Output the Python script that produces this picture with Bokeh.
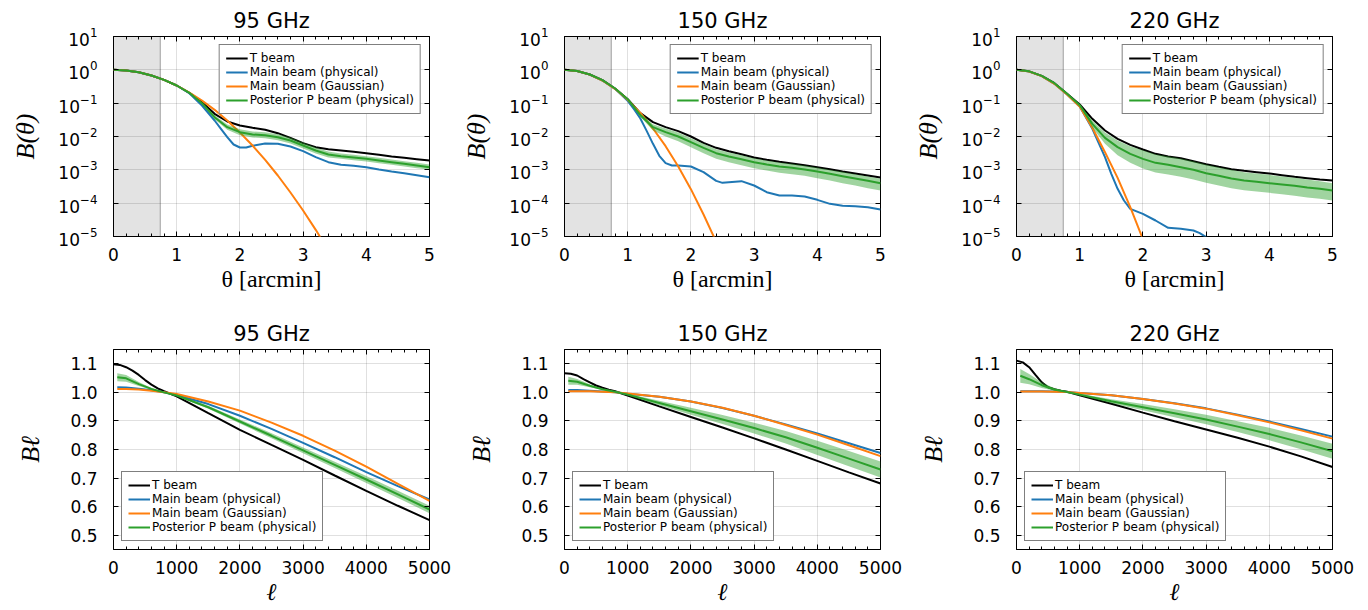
import numpy as np
from bokeh.plotting import figure
from bokeh.layouts import column, row
from bokeh.models import (Legend, LegendItem, LinearAxis, LogAxis, BoxAnnotation,
                          FixedTicker, Range1d, PrintfTickFormatter)
from bokeh.embed import file_html
from bokeh.resources import INLINE

TITLES = ["95 GHz", "150 GHz", "220 GHz"]
LABELS = ["T beam", "Main beam (physical)", "Main beam (Gaussian)", "Posterior P beam (physical)"]
COLORS = ["#000000", "#1f77b4", "#ff7f0e", "#2ca02c"]
THETA_CUT = 0.74

# ---------------- top row: log10 B(theta) ----------------
TH = [0.0, 0.2, 0.4, 0.6, 0.8, 1.0, 1.2, 1.4, 1.6, 1.8, 2.0, 2.2, 2.4, 2.6, 2.8,
      3.0, 3.2, 3.4, 3.6, 3.8, 4.0, 4.2, 4.4, 4.6, 4.8, 5.0]

# 95 GHz
T95 = [0, -0.019, -0.075, -0.17, -0.30, -0.47, -0.69, -0.97, -1.32, -1.55, -1.67, -1.74, -1.80,
       -1.90, -2.04, -2.20, -2.32, -2.38, -2.42, -2.46, -2.50, -2.55, -2.60, -2.64, -2.68, -2.72]
M95_TH = [0.0, 0.2, 0.4, 0.6, 0.8, 1.0, 1.2, 1.4, 1.6, 1.7, 1.8, 1.9, 2.0, 2.1, 2.2, 2.4, 2.6,
          2.8, 3.0, 3.2, 3.4, 3.6, 3.8, 4.0, 4.2, 4.4, 4.6, 4.8, 5.0]
M95 = [0, -0.019, -0.075, -0.17, -0.30, -0.47, -0.70, -1.07, -1.52, -1.77, -2.02, -2.24, -2.33,
       -2.33, -2.28, -2.21, -2.22, -2.30, -2.44, -2.62, -2.77, -2.85, -2.88, -2.92, -2.99, -3.05,
       -3.10, -3.16, -3.22]
G95 = [0, -0.019, -0.075, -0.17, -0.30, -0.47, -0.68, -0.92, -1.20, -1.52, -1.88, -2.27, -2.70,
       -3.17, -3.68, -4.22, -4.80, -5.42, -6.08]
P95 = [0, -0.019, -0.075, -0.17, -0.30, -0.47, -0.69, -1.00, -1.42, -1.72, -1.87, -1.94, -1.96,
       -2.02, -2.12, -2.27, -2.42, -2.54, -2.59, -2.63, -2.67, -2.72, -2.77, -2.82, -2.87, -2.92]
P95_HI = [0, -0.019, -0.075, -0.17, -0.30, -0.47, -0.68, -0.97, -1.36, -1.64, -1.78, -1.85, -1.87,
          -1.93, -2.03, -2.18, -2.33, -2.45, -2.51, -2.55, -2.59, -2.64, -2.69, -2.74, -2.79, -2.84]
P95_LO = [0, -0.019, -0.075, -0.17, -0.30, -0.47, -0.70, -1.03, -1.48, -1.80, -1.96, -2.03, -2.05,
          -2.11, -2.21, -2.36, -2.51, -2.63, -2.67, -2.71, -2.75, -2.80, -2.85, -2.90, -2.95, -3.00]

# 150 GHz
T150 = [0, -0.035, -0.14, -0.31, -0.56, -0.88, -1.30, -1.57, -1.72, -1.84, -2.00, -2.19, -2.34,
        -2.44, -2.53, -2.63, -2.70, -2.76, -2.81, -2.86, -2.92, -2.98, -3.05, -3.11, -3.17, -3.23]
M150_TH = [0.0, 0.2, 0.4, 0.6, 0.8, 1.0, 1.1, 1.2, 1.3, 1.4, 1.5, 1.6, 1.7, 1.8, 2.0, 2.2, 2.4,
           2.5, 2.6, 2.8, 3.0, 3.2, 3.4, 3.6, 3.8, 4.0, 4.2, 4.4, 4.6, 4.8, 5.0]
M150 = [0, -0.036, -0.143, -0.32, -0.57, -0.93, -1.18, -1.46, -1.83, -2.22, -2.58, -2.80, -2.87,
        -2.87, -2.90, -3.07, -3.33, -3.39, -3.37, -3.34, -3.47, -3.67, -3.77, -3.77, -3.80, -3.90,
        -4.02, -4.08, -4.09, -4.12, -4.19]
G150 = [0, -0.036, -0.143, -0.32, -0.57, -0.90, -1.29, -1.76, -2.29, -2.90, -3.58, -4.34, -5.16,
        -6.06]
P150 = [0, -0.035, -0.14, -0.31, -0.56, -0.88, -1.36, -1.72, -1.87, -2.00, -2.17, -2.34, -2.50,
        -2.60, -2.68, -2.77, -2.84, -2.90, -2.94, -2.99, -3.05, -3.12, -3.19, -3.26, -3.33, -3.40]
P150_HI = [0, -0.035, -0.14, -0.31, -0.56, -0.87, -1.31, -1.63, -1.76, -1.88, -2.05, -2.22, -2.38,
           -2.48, -2.56, -2.65, -2.72, -2.78, -2.82, -2.87, -2.93, -3.00, -3.06, -3.13, -3.20, -3.27]
P150_LO = [0, -0.035, -0.14, -0.31, -0.56, -0.89, -1.41, -1.82, -2.00, -2.14, -2.32, -2.50, -2.67,
           -2.77, -2.86, -2.95, -3.02, -3.09, -3.13, -3.18, -3.25, -3.32, -3.40, -3.47, -3.55, -3.62]

# 220 GHz
T220 = [0, -0.045, -0.18, -0.40, -0.72, -1.04, -1.47, -1.82, -2.07, -2.25, -2.39, -2.52, -2.60,
        -2.65, -2.74, -2.83, -2.91, -2.98, -3.03, -3.07, -3.11, -3.16, -3.21, -3.25, -3.29, -3.32]
M220_TH = [0.0, 0.2, 0.4, 0.6, 0.8, 1.0, 1.2, 1.4, 1.5, 1.6, 1.7, 1.8, 2.0, 2.2, 2.4, 2.6, 2.8,
           2.9, 3.0, 3.1]
M220 = [0, -0.05, -0.19, -0.42, -0.74, -1.10, -1.77, -2.62, -3.12, -3.57, -3.92, -4.17, -4.32,
        -4.52, -4.74, -4.77, -4.82, -4.90, -5.02, -5.15]
G220 = [0, -0.05, -0.19, -0.42, -0.74, -1.10, -1.74, -2.47, -3.24, -4.12, -5.08, -6.10]
P220 = [0, -0.045, -0.18, -0.40, -0.72, -1.06, -1.62, -2.04, -2.32, -2.52, -2.67, -2.79, -2.85,
        -2.92, -3.00, -3.10, -3.18, -3.26, -3.32, -3.36, -3.40, -3.44, -3.48, -3.53, -3.57, -3.62]
P220_HI = [0, -0.045, -0.18, -0.40, -0.72, -1.04, -1.52, -1.88, -2.12, -2.29, -2.41, -2.53, -2.59,
           -2.66, -2.74, -2.84, -2.92, -3.00, -3.07, -3.11, -3.15, -3.20, -3.24, -3.29, -3.34, -3.40]
P220_LO = [0, -0.045, -0.18, -0.40, -0.72, -1.08, -1.74, -2.22, -2.56, -2.79, -2.96, -3.08, -3.14,
           -3.21, -3.29, -3.39, -3.47, -3.55, -3.61, -3.65, -3.69, -3.73, -3.78, -3.83, -3.87, -3.92]

# ---------------- bottom row: B_ell ----------------
ELL_T = [0, 100, 200, 300, 400, 500, 600, 700, 800, 1000, 1500, 2000, 2500, 3000, 3500, 4000,
         4500, 5000]
ELL = [60, 200, 400, 600, 800, 1000, 1500, 2000, 2500, 3000, 3500, 4000, 4500, 5000]

BT95 = [1.098, 1.096, 1.088, 1.076, 1.061, 1.043, 1.027, 1.014, 1.004, 0.986, 0.927, 0.869,
        0.816, 0.764, 0.709, 0.655, 0.603, 0.553]
BM95 = [1.018, 1.017, 1.013, 1.007, 1.000, 0.991, 0.959, 0.918, 0.872, 0.823, 0.773, 0.721,
        0.672, 0.625]
BG95 = [1.012, 1.012, 1.010, 1.006, 1.000, 0.994, 0.968, 0.936, 0.894, 0.848, 0.796, 0.740,
        0.680, 0.620]
BP95 = [1.053, 1.049, 1.029, 1.012, 1.000, 0.989, 0.948, 0.898, 0.848, 0.797, 0.746, 0.695,
        0.643, 0.590]
BP95_ERR = [0.014, 0.012, 0.007, 0.003, 0.001, 0.002, 0.005, 0.007, 0.009, 0.010, 0.011, 0.012,
            0.013, 0.013]

BT150 = [1.067, 1.065, 1.059, 1.046, 1.035, 1.024, 1.016, 1.009, 1.004, 0.989, 0.951, 0.914,
         0.877, 0.839, 0.800, 0.760, 0.720, 0.681]
BM150 = [1.008, 1.008, 1.006, 1.003, 1.000, 0.995, 0.985, 0.968, 0.945, 0.918, 0.888, 0.856,
         0.822, 0.788]
BG150 = [1.004, 1.004, 1.004, 1.002, 1.000, 0.996, 0.985, 0.968, 0.946, 0.918, 0.886, 0.852,
         0.815, 0.777]
BP150 = [1.041, 1.037, 1.023, 1.011, 1.002, 0.992, 0.963, 0.934, 0.905, 0.875, 0.843, 0.806,
         0.768, 0.730]
BP150_ERR = [0.014, 0.010, 0.005, 0.002, 0.001, 0.003, 0.008, 0.012, 0.016, 0.019, 0.022, 0.025,
             0.027, 0.028]

BT220 = [1.111, 1.105, 1.088, 1.061, 1.035, 1.018, 1.011, 1.006, 1.002, 0.990, 0.960, 0.929,
         0.899, 0.870, 0.841, 0.810, 0.776, 0.739]
BM220 = [1.004, 1.004, 1.004, 1.003, 1.001, 0.998, 0.990, 0.977, 0.962, 0.944, 0.922, 0.898,
         0.872, 0.845]
BG220 = [1.003, 1.003, 1.003, 1.002, 1.001, 0.998, 0.990, 0.977, 0.961, 0.943, 0.920, 0.895,
         0.867, 0.838]
BP220 = [1.058, 1.046, 1.025, 1.010, 1.001, 0.992, 0.969, 0.948, 0.927, 0.905, 0.880, 0.854,
         0.825, 0.794]
BP220_ERR = [0.024, 0.018, 0.010, 0.004, 0.001, 0.003, 0.007, 0.011, 0.014, 0.017, 0.019, 0.022,
             0.024, 0.026]

THETA_TICKS = [0, 1, 2, 3, 4, 5]
ELL_TICKS = [0, 1000, 2000, 3000, 4000, 5000]
B_TICKS = [1e-5, 1e-4, 1e-3, 1e-2, 1e-1, 1e0, 1e1]
BL_TICKS = [0.5, 0.6, 0.7, 0.8, 0.9, 1.0, 1.1]

TOP = [
    (T95, M95_TH, M95, G95, P95, P95_LO, P95_HI),
    (T150, M150_TH, M150, G150, P150, P150_LO, P150_HI),
    (T220, M220_TH, M220, G220, P220, P220_LO, P220_HI),
]
BOT = [
    (BT95, BM95, BG95, BP95, BP95_ERR),
    (BT150, BM150, BG150, BP150, BP150_ERR),
    (BT220, BM220, BG220, BP220, BP220_ERR),
]

COL_W = [452, 452, 464]
COL_L = [113, 112, 112]
FRAME_W = 316
TICK_FONT = "DejaVu Sans"
LABEL_FONT = "Liberation Serif, DejaVu Serif"


def style_axis(ax, mirror=False, ticks=None):
    ax.axis_line_color = None
    ax.major_tick_in = 5
    ax.major_tick_out = 0
    ax.minor_tick_in = 3
    ax.minor_tick_out = 0
    ax.major_tick_line_color = "black"
    ax.minor_tick_line_color = "black"
    ax.major_label_text_font = TICK_FONT
    ax.major_label_text_font_size = "17px"
    ax.major_label_text_color = "black"
    if mirror:
        ax.major_label_overrides = {t: "" for t in ticks}
        ax.major_label_text_font_size = "0px"
        ax.major_label_standoff = 0


def base_fig(c, top):
    if top:
        p = figure(width=COL_W[c], height=300, y_axis_type="log",
                   x_range=Range1d(0, 5), y_range=Range1d(1e-5, 1e1),
                   output_backend="svg", toolbar_location=None, tools="")
        p.min_border_top, p.min_border_bottom = 36, 64
        xt = FixedTicker(ticks=THETA_TICKS, minor_ticks=list(np.round(np.arange(0, 5.01, 0.2), 2)))
        yt = FixedTicker(ticks=B_TICKS, minor_ticks=[])
        yticks = B_TICKS
        xticks = THETA_TICKS
    else:
        p = figure(width=COL_W[c], height=310,
                   x_range=Range1d(0, 5000), y_range=Range1d(0.45, 1.15),
                   output_backend="svg", toolbar_location=None, tools="")
        p.min_border_top, p.min_border_bottom = 49, 61
        xt = FixedTicker(ticks=ELL_TICKS, minor_ticks=list(range(0, 5001, 200)))
        yt = FixedTicker(ticks=BL_TICKS, minor_ticks=[])
        yticks = BL_TICKS
        xticks = ELL_TICKS
    p.min_border_left = COL_L[c]
    p.min_border_right = COL_W[c] - COL_L[c] - FRAME_W
    p.background_fill_color = "white"
    p.border_fill_color = "white"
    p.outline_line_color = "black"
    p.outline_line_width = 1

    bx = p.below[0]
    ly = p.left[0]
    bx.ticker = xt
    ly.ticker = yt
    style_axis(bx)
    style_axis(ly)
    bx.major_label_standoff = 11
    ly.major_label_standoff = 16
    if not top:
        ly.formatter = PrintfTickFormatter(format="%.1f")

    ra = LogAxis(ticker=yt) if top else LinearAxis(ticker=yt)
    ta = LinearAxis(ticker=xt)
    style_axis(ra, True, yticks)
    style_axis(ta, True, xticks)
    p.add_layout(ra, "right")
    p.add_layout(ta, "above")

    p.xgrid.ticker = xt
    p.ygrid.ticker = yt
    p.grid.grid_line_color = "black"
    p.grid.grid_line_alpha = 0.12
    p.grid.grid_line_width = 1

    p.title.text = TITLES[c]
    p.title.align = "center"
    p.title.text_font = TICK_FONT
    p.title.text_font_size = "21px"
    p.title.text_font_style = "normal"
    p.title.text_color = "black"
    p.title.standoff = 8

    for ax in (bx, ly):
        ax.axis_label_text_font = LABEL_FONT
        ax.axis_label_text_font_size = "24px"
        ax.axis_label_text_color = "black"
    bx.axis_label_standoff = 2
    if top:
        bx.axis_label = "θ [arcmin]"
        bx.axis_label_text_font_style = "normal"
        ly.axis_label = "B(θ)"
        ly.axis_label_text_font_style = "italic"
        ly.axis_label_text_font_size = "26px"
        ly.axis_label_standoff = 15
    else:
        bx.axis_label = "ℓ"
        bx.axis_label_text_font_style = "italic"
        ly.axis_label = "Bℓ"
        ly.axis_label_text_font_style = "italic"
        ly.axis_label_text_font_size = "26px"
        ly.axis_label_standoff = 22
    return p


def make_legend(items, loc):
    leg = Legend(items=[LegendItem(label=l, renderers=[r]) for l, r in zip(LABELS, items)],
                 location=loc)
    leg.label_text_font = TICK_FONT
    leg.label_text_font_size = "12px"
    leg.label_text_color = "black"
    leg.glyph_width = 22
    leg.glyph_height = 14
    leg.label_height = 14
    leg.label_standoff = 2
    leg.padding = 6
    leg.spacing = 0
    leg.margin = 8
    leg.border_line_color = "black"
    leg.border_line_width = 1
    leg.background_fill_color = "white"
    leg.background_fill_alpha = 1.0
    return leg


LW = 2
top_figs = []
for c, (t, mth, m, g, pp, lo, hi) in enumerate(TOP):
    p = base_fig(c, True)
    p.add_layout(BoxAnnotation(left=0, right=THETA_CUT, fill_color="black", fill_alpha=0.11,
                               line_color="black", line_alpha=0.35, line_width=1,
                               level="underlay"))
    th = np.array(TH)
    r1 = p.line(th, np.power(10.0, t), line_color=COLORS[0], line_width=LW)
    r2 = p.line(np.array(mth), np.power(10.0, m), line_color=COLORS[1], line_width=LW)
    r3 = p.line(th[:len(g)], np.power(10.0, g), line_color=COLORS[2], line_width=LW)
    p.varea(x=th, y1=np.power(10.0, lo), y2=np.power(10.0, hi), fill_color=COLORS[3],
            fill_alpha=0.45)
    r4 = p.line(th, np.power(10.0, pp), line_color=COLORS[3], line_width=LW)
    p.add_layout(make_legend([r1, r2, r3, r4], "top_right"))
    top_figs.append(p)

bot_figs = []
for c, (t, m, g, pp, err) in enumerate(BOT):
    p = base_fig(c, False)
    ell = np.array(ELL)
    r1 = p.line(np.array(ELL_T), t, line_color=COLORS[0], line_width=LW)
    r2 = p.line(ell, m, line_color=COLORS[1], line_width=LW)
    r3 = p.line(ell, g, line_color=COLORS[2], line_width=LW)
    pc = np.array(pp)
    e = np.array(err)
    p.varea(x=ell, y1=pc - e, y2=pc + e, fill_color=COLORS[3], fill_alpha=0.45)
    r4 = p.line(ell, pc, line_color=COLORS[3], line_width=LW)
    p.add_layout(make_legend([r1, r2, r3, r4], "bottom_left"))
    bot_figs.append(p)

layout = column(row(*top_figs, spacing=0), row(*bot_figs, spacing=0), spacing=0)
open("out.html", "w").write(file_html(layout, INLINE))
